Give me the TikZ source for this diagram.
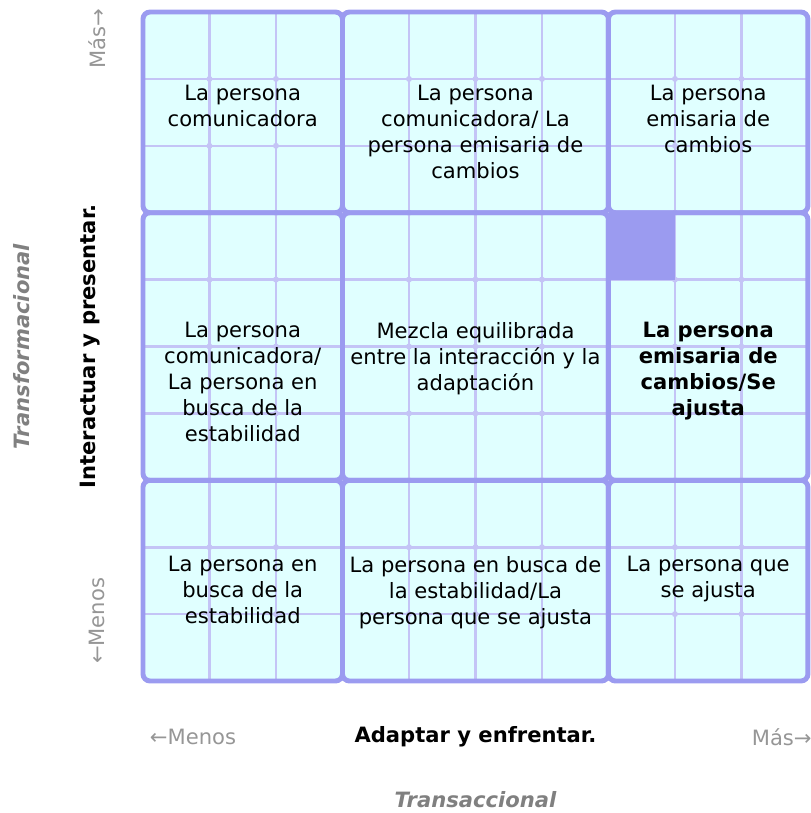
\documentclass[tikz,border=0pt]{standalone}
\usepackage{fontspec}
\setmainfont{DejaVu Sans}
\usepackage{tikz}
\usetikzlibrary{calc}
\definecolor{cellfill}{RGB}{224,255,255}
\definecolor{edge}{RGB}{155,155,240}
\definecolor{thinline}{RGB}{196,196,246}
\definecolor{axisgray}{RGB}{150,150,150}
\definecolor{sidegray}{RGB}{128,128,128}

\begin{document}
\begin{tikzpicture}[x=1.33cm,y=1.338cm,
        cell/.style={align=center,inner sep=0pt,anchor=north,font=\fontsize{12}{14.8}\selectfont},
        axis/.style={inner sep=0pt,text=axisgray,font=\fontsize{12}{14.8}\selectfont},
        title/.style={inner sep=0pt,font=\fontsize{12}{14.8}\selectfont\bfseries},
        side/.style={inner sep=0pt,text=sidegray,font=\fontsize{12}{14.8}\selectfont\bfseries\itshape}]
        \useasboundingbox (-2.15,-1.973) rectangle (10.045,10.18);
        \begin{scope}
            \foreach \xa/\xb in {0/3,3/7,7/10}
                \foreach \ya/\yb in {0/3,3/7,7/10}
                    \fill[cellfill] (\xa,\ya) rectangle (\xb,\yb);
            \foreach \i in {1,...,9} {
                \draw[thinline,line width=1.5pt] (\i,0) -- (\i,10);
                \draw[thinline,line width=1.5pt] (0,\i) -- (10,\i);
            }
            \foreach \i in {1,...,9}
                \foreach \j in {1,...,9}
                    \fill[thinline] (\i,\j) circle (0.045);
            \fill[edge] (7,6) rectangle (8,7);
            \foreach \xa/\xb in {0/3,3/7,7/10}
                \foreach \ya/\yb in {0/3,3/7,7/10}
                    \draw[edge,line width=2.8pt,rounded corners=4pt] (\xa,\ya) rectangle (\xb,\yb);
        \end{scope}
        % cell texts
        \node[cell] (comunicadora) at (1.5,8.915) {La persona\\comunicadora};
        \node[cell] (comemisaria) at (5,8.915) {La persona\\comunicadora/ La\\persona emisaria de\\cambios};
        \node[cell] (emisaria) at (8.5,8.915) {La persona\\emisaria de\\cambios};
        \node[cell] (comestable) at (1.5,5.372) {La persona\\comunicadora/\\La persona en\\busca de la\\estabilidad};
        \node[cell] (mezcla) at (5,5.372) {Mezcla equilibrada\\entre la interacción y la\\adaptación};
        \node[cell,font=\fontsize{12}{14.8}\selectfont\bfseries] (emiajusta) at (8.5,5.372) {La persona\\emisaria de\\cambios/Se\\ajusta};
        \node[cell] (estable) at (1.5,1.874) {La persona en\\busca de la\\estabilidad};
        \node[cell] (estajusta) at (5,1.874) {La persona en busca de\\la estabilidad/La\\persona que se ajusta};
        \node[cell] (ajusta) at (8.5,1.874) {La persona que\\se ajusta};
        % axes
        \node[axis,rotate=90,anchor=east] (vmas) at (-0.69,10.05) {Más→};
        \node[axis,rotate=90,anchor=west] (vmenos) at (-0.69,0.25) {←Menos};
        \node[title,rotate=90] (interactuar) at (-0.80,5) {Interactuar y presentar.};
        \node[side,rotate=90] (transform) at (-1.83,5) {Transformacional};
        \node[axis,anchor=west] (hmenos) at (0.1,-0.84) {←Menos};
        \node[title] (adaptar) at (5,-0.84) {Adaptar y enfrentar.};
        \node[axis,anchor=east] (hmas) at (10.06,-0.84) {Más→};
        \node[side] (transac) at (5,-1.77) {Transaccional};
\end{tikzpicture}
\end{document}
